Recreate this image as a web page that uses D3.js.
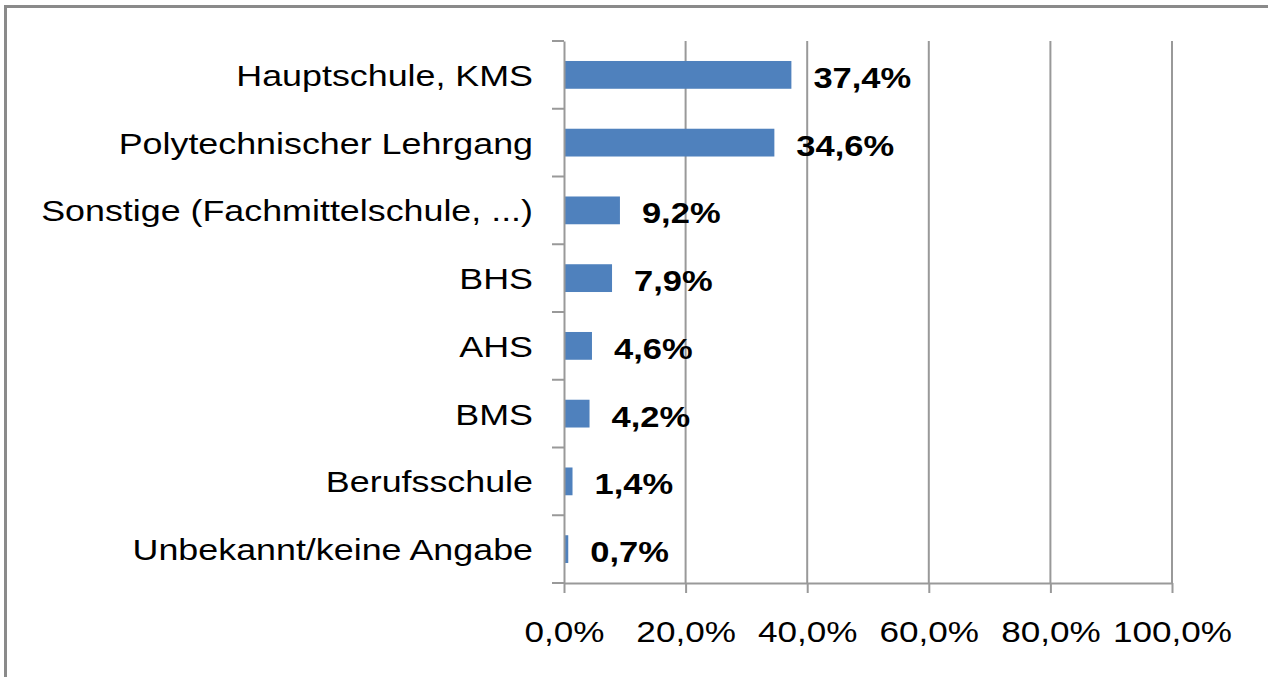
<!DOCTYPE html>
<html>
<head>
<meta charset="utf-8">
<script src="https://cdn.jsdelivr.net/npm/d3@7"></script>
<style>
  html, body { margin: 0; padding: 0; background: #fff; }
  svg { display: block; }
</style>
</head>
<body>
<svg id="chart" width="1268" height="677"></svg>
<script>
const categories = [
  "Hauptschule, KMS",
  "Polytechnischer Lehrgang",
  "Sonstige (Fachmittelschule, ...)",
  "BHS",
  "AHS",
  "BMS",
  "Berufsschule",
  "Unbekannt/keine Angabe"
];
const values = [37.4, 34.6, 9.2, 7.9, 4.6, 4.2, 1.4, 0.7];
const xTicks = [0, 20, 40, 60, 80, 100];

const W = 1268, H = 677;
const plot = { left: 564, right: 1172, top: 41, bottom: 583 };
const FONT = "'Liberation Sans', Arial, sans-serif";
const SX = 1.19;   // horizontal stretch of the axis tick text
const SXC = 1.215; // horizontal stretch of the category labels
const SXB = 1.17;  // horizontal stretch of the value labels
const gridColor = "#999999";

const de = d3.formatLocale({ decimal: ",", thousands: ".", grouping: [3], currency: ["", " €"] });
const pct = v => de.format(".1f")(v) + "%";

const svg = d3.select("#chart");
svg.append("rect").attr("width", W).attr("height", H).attr("fill", "#fff");

// outer frame (clipped on the right and bottom in the original)
svg.append("rect")
  .attr("x", 5.5).attr("y", 6.5)
  .attr("width", W + 20).attr("height", H + 20)
  .attr("fill", "none").attr("stroke", "#8a8a8a").attr("stroke-width", 3);

const x = d3.scaleLinear().domain([0, 100]).range([plot.left, plot.right]);
const y = d3.scaleBand().domain(categories)
  .range([plot.top, plot.bottom])
  .paddingInner(0.59).paddingOuter(0.295);

// vertical gridlines
svg.append("g").selectAll("line")
  .data(xTicks.filter(t => t > 0))
  .join("line")
  .attr("x1", d => x(d)).attr("x2", d => x(d))
  .attr("y1", plot.top).attr("y2", plot.bottom)
  .attr("stroke", gridColor).attr("stroke-width", 2);

// bars
svg.append("g").selectAll("rect")
  .data(values)
  .join("rect")
  .attr("x", x(0))
  .attr("y", (d, i) => y(categories[i]))
  .attr("width", d => x(d) - x(0))
  .attr("height", y.bandwidth())
  .attr("fill", "#4f81bd");

// x axis
const xAxis = svg.append("g")
  .attr("transform", `translate(0,${plot.bottom})`)
  .call(d3.axisBottom(x).tickValues(xTicks).tickFormat(pct).tickSize(10).tickSizeOuter(0));
xAxis.select(".domain").attr("stroke", gridColor).attr("stroke-width", 2);
xAxis.selectAll(".tick line").attr("stroke", gridColor).attr("stroke-width", 2);
xAxis.selectAll(".tick text")
  .attr("y", 59).attr("dy", 0)
  .attr("transform", `scale(${SX},1)`)
  .attr("font-family", FONT).attr("font-size", 29.5)
  .attr("fill", "#000").attr("text-anchor", "middle");

// y axis line
const yAxis = svg.append("g")
  .attr("transform", `translate(${plot.left},0)`)
  .call(d3.axisLeft(y).tickSize(0).tickSizeOuter(0).tickPadding(31));
yAxis.select(".domain").attr("stroke", gridColor).attr("stroke-width", 2);
yAxis.selectAll(".tick text")
  .attr("x", 0).attr("dy", 0).attr("y", 11)
  .attr("transform", `translate(-31,0) scale(${SXC},1)`)
  .attr("font-family", FONT).attr("font-size", 29.5)
  .attr("fill", "#000").attr("text-anchor", "end");

// category boundary ticks on y axis
const bounds = d3.range(categories.length + 1).map(i => plot.top + i * y.step());
svg.append("g").selectAll("line")
  .data(bounds)
  .join("line")
  .attr("x1", plot.left - 12).attr("x2", plot.left)
  .attr("y1", d => d).attr("y2", d => d)
  .attr("stroke", gridColor).attr("stroke-width", 2);

// value labels
svg.append("g").selectAll("text")
  .data(values)
  .join("text")
  .attr("transform", (d, i) => `translate(${x(d) + 22},${y(categories[i]) + y.bandwidth() / 2 + 13}) scale(${SXB},1)`)
  .attr("font-family", FONT).attr("font-size", 29.5).attr("font-weight", "bold")
  .attr("fill", "#000")
  .text(d => pct(d));
</script>
</body>
</html>
